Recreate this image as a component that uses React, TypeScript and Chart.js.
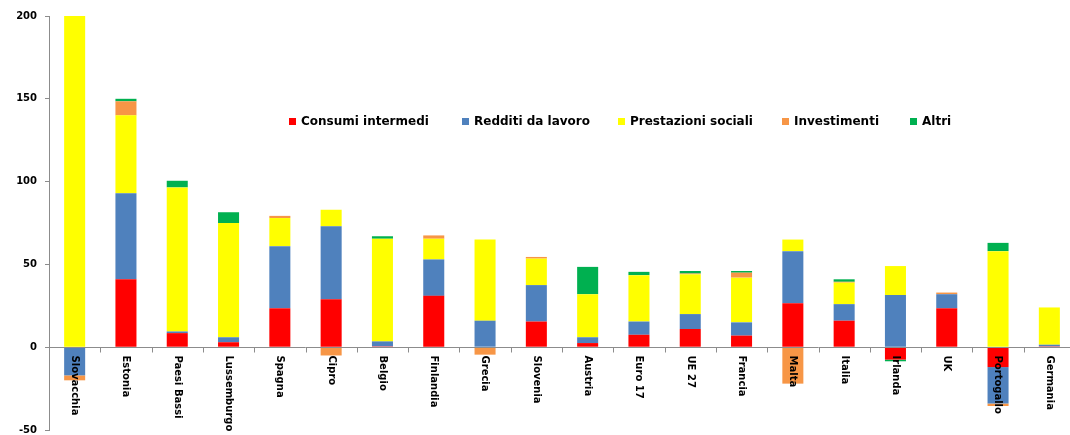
import React, { useEffect, useRef } from "react";
import { Chart, registerables } from "chart.js";

Chart.register(...registerables);

const categories = [
  "Slovacchia", "Estonia", "Paesi Bassi", "Lussemburgo", "Spagna", "Cipro", "Belgio",
  "Finlandia", "Grecia", "Slovenia", "Austria", "Euro 17", "UE 27", "Francia", "Malta",
  "Italia", "Irlanda", "UK", "Portogallo", "Germania",
];

const consumiIntermedi = [0, 41, 8.5, 3, 23.5, 29, 0.5, 31, 0, 15.5, 2.5, 7.5, 11, 7, 26.5, 16, -7.5, 23.5, -12, 0.5];
const redditiDaLavoro = [-17, 52, 1, 3, 37.5, 44, 3, 22, 16, 22, 3.5, 8, 9, 8, 31.5, 10, 31.5, 8.5, -22, 1];
const prestazioniSociali = [200, 47, 87, 69, 17, 10, 62, 12.5, 49, 16, 26, 28, 24, 27, 7, 13, 17.5, 0, 58, 22.5];
const investimenti = [-3, 8.5, 0, 0, 1.3, -5, 0, 2, -4.5, 1, 0, 0, 0.5, 3, -22, 0.5, 0, 1, -1.5, 0];
const altri = [0, 1.5, 4, 6.5, 0, 0, 1.5, 0, 0, 0, 16.5, 2, 1.5, 1, 0, 1.5, -1, 0, 5, 0];

const yMin = -50;
const yMax = 200;
const yStep = 50;

const seriesNames = ["Consumi intermedi", "Redditi da lavoro", "Prestazioni sociali", "Investimenti", "Altri"];
const seriesColors = ["#FF0000", "#4F81BD", "#FFFF00", "#F79646", "#00B050"];
const legendX = [289, 462, 618, 782, 910];

const FONT = "'DejaVu Sans', 'Liberation Sans', sans-serif";

const overlayPlugin = {
  id: "overlay",
  afterDatasetsDraw(chart: any) {
    const { ctx, chartArea, scales } = chart;
    const xs = scales.x;
    const ys = scales.y;
    const y0 = Math.round(ys.getPixelForValue(0)) + 0.5;
    const n = categories.length;
    const catW = (chartArea.right - chartArea.left) / n;
    ctx.save();
    ctx.strokeStyle = "#8c8c8c";
    ctx.lineWidth = 1;
    ctx.beginPath();
    ctx.moveTo(chartArea.left, y0);
    ctx.lineTo(chartArea.right, y0);
    for (let i = 0; i <= n; i++) {
      const x = Math.round(chartArea.left + i * catW) + 0.5;
      ctx.moveTo(x, y0);
      ctx.lineTo(x, y0 + 5);
    }
    ctx.stroke();
    ctx.fillStyle = "#000";
    ctx.font = "bold 10px " + FONT;
    ctx.textAlign = "left";
    ctx.textBaseline = "middle";
    for (let i = 0; i < n; i++) {
      const x = xs.getPixelForValue(i);
      ctx.save();
      ctx.translate(x, y0 + 8);
      ctx.rotate(Math.PI / 2);
      ctx.fillText(categories[i], 0, 0);
      ctx.restore();
    }
    // legend
    ctx.font = "bold 12px " + FONT;
    ctx.textBaseline = "middle";
    const ly = 122;
    for (let i = 0; i < seriesNames.length; i++) {
      ctx.fillStyle = seriesColors[i];
      ctx.fillRect(legendX[i], ly - 4, 7, 7);
      ctx.fillStyle = "#000";
      ctx.fillText(seriesNames[i], legendX[i] + 12, ly);
    }
    ctx.restore();
  },
};

export default function App() {
  const ref = useRef<HTMLCanvasElement>(null);
  useEffect(() => {
    document.body.style.margin = "0";
    const canvas = ref.current!;
    const data = [consumiIntermedi, redditiDaLavoro, prestazioniSociali, investimenti, altri];
    const chart = new Chart(canvas, {
      type: "bar",
      data: {
        labels: categories,
        datasets: data.map((d, i) => ({
          label: seriesNames[i],
          data: d,
          backgroundColor: seriesColors[i],
          borderWidth: 0,
          barPercentage: 0.82,
          categoryPercentage: 0.5,
        })),
      },
      options: {
        responsive: false,
        animation: false,
        devicePixelRatio: 1,
        layout: { padding: { top: 16, right: 1, bottom: 0, left: 0 } },
        plugins: { legend: { display: false }, tooltip: { enabled: false }, title: { display: false } },
        scales: {
          x: { stacked: true, display: false },
          y: {
            stacked: true,
            min: yMin,
            max: yMax,
            ticks: {
              stepSize: yStep,
              color: "#000",
              padding: 8,
              font: { family: FONT, size: 10, weight: "bold" },
            },
            grid: { drawOnChartArea: false, drawTicks: true, tickLength: 4, color: "#8c8c8c" },
            border: { display: true, color: "#8c8c8c" },
            afterFit: (s: any) => {
              s.width = 49;
            },
          },
        },
      },
      plugins: [overlayPlugin],
    });
    return () => chart.destroy();
  }, []);
  return (
    <div style={{ width: 1070, height: 435, overflow: "hidden", position: "relative", background: "#fff" }}>
      <canvas ref={ref} width={1076} height={444} style={{ display: "block" }} />
    </div>
  );
}
